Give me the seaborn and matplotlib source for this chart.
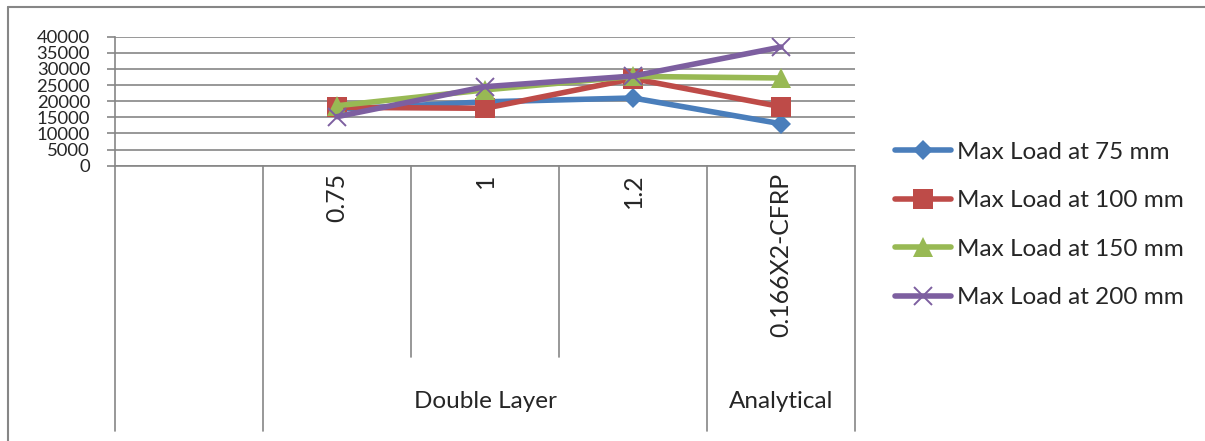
import numpy as np
import pandas as pd
import matplotlib
matplotlib.use("Agg")
import matplotlib.pyplot as plt
import seaborn as sns
from matplotlib.lines import Line2D

categories = ["", "0.75", "1", "1.2", "0.166X2-CFRP"]
groups = [("Double Layer", 1, 3), ("Analytical", 4, 4)]
series = ["Max Load at 75 mm", "Max Load at 100 mm", "Max Load at 150 mm", "Max Load at 200 mm"]
load_75 = [np.nan, 17500, 19800, 21000, 13000]
load_100 = [np.nan, 18100, 17800, 27000, 18300]
load_150 = [np.nan, 18600, 23500, 27700, 27200]
load_200 = [np.nan, 15200, 24500, 27800, 36800]
yticks = [0, 5000, 10000, 15000, 20000, 25000, 30000, 35000, 40000]

colors = ["#4A7EBB", "#BE4B48", "#98B954", "#7D5FA0"]
markers = ["D", "s", "^", "x"]
msizes = [10, 14.5, 14.5, 13.5]
LW = 4

rows = []
for name, vals in zip(series, [load_75, load_100, load_150, load_200]):
    for c, v in zip(categories, vals):
        if not np.isnan(v):
            rows.append({"cat": c, "load": v, "series": name})
df = pd.DataFrame(rows)

sns.set_style("white")
plt.rcParams["font.family"] = ["Lato", "DejaVu Sans"]

W, H = 1205, 441
fig = plt.figure(figsize=(W / 100, H / 100), dpi=100)
L, R, T, B = 115, 855, 36.7, 165.7
ax = fig.add_axes([L / W, 1 - B / H, (R - L) / W, (B - T) / H])

sns.pointplot(data=df, x="cat", y="load", hue="series", order=categories,
              hue_order=series, palette=colors, markers=markers,
              linestyles="-", errorbar=None, ax=ax, linewidth=LW,
              markersize=12, legend=False)

gray = "#868686"
for ln, ms, mk in zip(ax.lines, msizes, markers):
    ln.set_markersize(ms)
    ln.set_solid_capstyle("round")
    ln.set_solid_joinstyle("round")
    if mk == "x":
        ln.set_markeredgewidth(1.4)
    else:
        ln.set_markeredgewidth(0)
    ln.set_clip_on(False)

ax.set_xlim(-0.5, len(categories) - 0.5)
ax.set_ylim(0, 40000)
ax.set_yticks(yticks)
ax.set_yticklabels([str(v) for v in yticks], fontsize=13.3)
ax.yaxis.grid(True, color=gray, linewidth=1.2)
ax.set_axisbelow(True)
for s in ["top", "right"]:
    ax.spines[s].set_visible(False)
for s in ["left", "bottom"]:
    ax.spines[s].set_color(gray)
    ax.spines[s].set_linewidth(1.2)
ax.tick_params(axis="y", length=6, color=gray, width=1.2, pad=12, left=True)
ax.tick_params(axis="x", length=0, pad=5.5)
ax.set_xticks(range(len(categories)))
ax.set_xticklabels(categories, rotation=90, fontsize=17.8)
ax.set_xlabel("")
ax.set_ylabel("")

tr = ax.get_xaxis_transform()
full_bottom = (B - 431) / (B - T)
inner_bottom = (B - 357) / (B - T)
for x in [-0.5, 0.5, 3.5, 4.5]:
    ax.add_line(Line2D([x, x], [0, full_bottom], transform=tr, color=gray,
                       lw=1.2, clip_on=False))
for x in [1.5, 2.5]:
    ax.add_line(Line2D([x, x], [0, inner_bottom], transform=tr, color=gray,
                       lw=1.2, clip_on=False))
glabel_y = (B - 401) / (B - T)
for name, a, b in groups:
    ax.text((a + b) / 2, glabel_y, name, transform=tr, ha="center", va="center",
            fontsize=17.5)

handles = [Line2D([], [], color=c, marker=m, markersize=ms, lw=LW,
                  markeredgewidth=(1.4 if m == "x" else 0),
                  solid_capstyle="round")
           for c, m, ms in zip(colors, markers, msizes)]
fig.legend(handles, series, loc="center left",
           bbox_to_anchor=(895 / W, 1 - 225 / H), frameon=False, fontsize=17.5,
           handlelength=2.3, handletextpad=0.25, labelspacing=1.13,
           borderaxespad=0, borderpad=0)

fig.add_artist(Line2D([8 / W, 1.0], [1 - 7 / H, 1 - 7 / H], color=gray, lw=1.5,
                      transform=fig.transFigure))
fig.add_artist(Line2D([8 / W, 8 / W], [0, 1 - 7 / H], color=gray, lw=1.5,
                      transform=fig.transFigure))

fig.savefig("out.png", dpi=100)
